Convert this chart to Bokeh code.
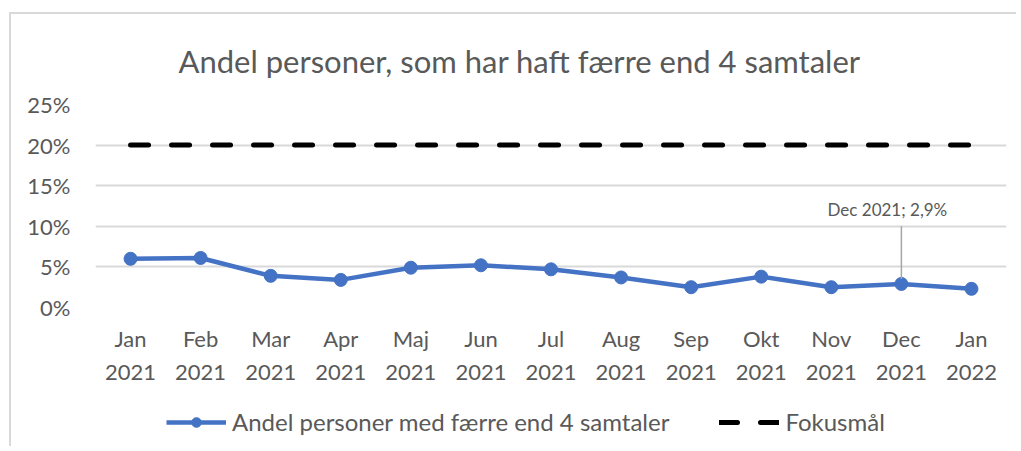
from bokeh.plotting import figure
from bokeh.layouts import column
from bokeh.models import (ColumnDataSource, FixedTicker, NumeralTickFormatter, LinearAxis,
                          Legend, LegendItem, Range1d)
from bokeh.core.properties import value
from bokeh.embed import file_html
from bokeh.resources import INLINE

# ---- data ----
months = ["Jan", "Feb", "Mar", "Apr", "Maj", "Jun", "Jul", "Aug", "Sep", "Okt", "Nov", "Dec", "Jan"]
years = ["2021"] * 12 + ["2022"]
andel_pct = [6.0, 6.1, 3.9, 3.4, 4.9, 5.2, 4.7, 3.7, 2.5, 3.8, 2.5, 2.9, 2.3]
fokus_pct = [20] * 13
y_ticks = [0, 0.05, 0.10, 0.15, 0.20, 0.25]
title_text = "Andel personer, som har haft færre end 4 samtaler"
series_name = "Andel personer med færre end 4 samtaler"
target_name = "Fokusmål"
annot_index = 11
annot_text = "Dec 2021; 2,9%"

xs = list(range(len(months)))
src = ColumnDataSource(dict(x=xs, andel=[v / 100 for v in andel_pct], fokus=[v / 100 for v in fokus_pct]))

FONT = "Lato"
TXT = "#595959"
GRID = "#d9d9d9"

p = figure(width=1005, height=386, x_range=Range1d(-0.5, len(xs) - 0.5), y_range=Range1d(0, 0.25),
           output_backend="svg", toolbar_location=None,
           min_border_left=84, min_border_right=10, min_border_top=90, min_border_bottom=93)
p.outline_line_color = None
p.background_fill_color = "white"
p.border_fill_color = "white"

p.title.text = title_text
p.title.text_font = FONT
p.title.text_font_size = "31px"
p.title.text_font_style = "normal"
p.title.text_color = TXT
p.title.align = "left"
p.title.offset = 83
p.title.standoff = 50

p.xgrid.grid_line_color = None
p.ygrid.grid_line_color = GRID
p.ygrid.grid_line_width = 2

p.yaxis.ticker = FixedTicker(ticks=y_ticks)
p.yaxis.formatter = NumeralTickFormatter(format="0%")
p.yaxis.axis_line_color = None
p.yaxis.major_tick_line_color = None
p.yaxis.minor_tick_line_color = None
p.yaxis.major_label_text_font = FONT
p.yaxis.major_label_text_font_size = "22px"
p.yaxis.major_label_text_color = TXT
p.yaxis.major_label_standoff = 19

xa = p.xaxis[0]
xa.ticker = FixedTicker(ticks=xs)
xa.axis_line_color = None
xa.major_tick_line_color = None
xa.minor_tick_line_color = None
xa.major_label_text_font = FONT
xa.major_label_text_font_size = "22px"
xa.major_label_text_color = TXT
xa.major_label_standoff = 11
xa.major_label_overrides = {i: m for i, m in zip(xs, months)}

xa2 = LinearAxis(ticker=FixedTicker(ticks=xs), axis_line_color=None, major_tick_line_color=None,
                 minor_tick_line_color=None,
                 major_label_text_font=FONT, major_label_text_font_size="22px",
                 major_label_text_color=TXT, major_label_standoff=4,
                 major_label_overrides={i: y for i, y in zip(xs, years)})
p.add_layout(xa2, "below")

r_target = p.line("x", "fokus", source=src, line_color="black", line_width=5, line_dash="18 23",
                  line_cap="round")
r_line = p.line("x", "andel", source=src, line_color="#4472C4", line_width=4.5)
r_pts = p.scatter("x", "andel", source=src, size=13, fill_color="#4472C4", line_color="#4472C4")

ax = xs[annot_index]
av = andel_pct[annot_index] / 100
p.segment(x0=[ax], y0=[av + 0.006], x1=[ax], y1=[av + 0.071], line_color="#a6a6a6", line_width=1.5)
p.text(x=[ax], y=[av + 0.092], text=[annot_text], text_font=value(FONT), text_font_size="17px",
       text_color=TXT, text_align="center", text_baseline="middle", x_offset=-14)

# legend strip (separate figure; proxy renderers share the series styling)
pl = figure(width=1005, height=46, x_axis_type=None, y_axis_type=None, output_backend="svg",
            toolbar_location=None, min_border=0, x_range=Range1d(0, 1), y_range=Range1d(0, 1))
pl.outline_line_color = None
pl.grid.visible = False
proxy = ColumnDataSource(dict(x=[float("nan")], y=[float("nan")]))
l_target = pl.line("x", "y", source=proxy, line_color="black", line_width=5, line_dash="18 23", line_cap="round")
l_line = pl.line("x", "y", source=proxy, line_color="#4472C4", line_width=4.5)
l_pts = pl.scatter("x", "y", source=proxy, size=13, fill_color="#4472C4", line_color="#4472C4")
legend = Legend(items=[LegendItem(label=series_name, renderers=[l_line, l_pts]),
                       LegendItem(label=target_name, renderers=[l_target])],
                orientation="horizontal", location=(71, 10),
                label_text_font=FONT, label_text_font_size="24px", label_text_color=TXT,
                glyph_width=60, glyph_height=24, label_standoff=6, spacing=50, border_line_color=None,
                background_fill_alpha=0, margin=0, padding=4)
pl.add_layout(legend)

layout = column(p, pl, spacing=0, margin=(12, 0, 0, 9),
                styles={"border-left": "2px solid #d9d9d9", "border-top": "2px solid #d9d9d9"})
open("out.html", "w").write(file_html(layout, INLINE))
